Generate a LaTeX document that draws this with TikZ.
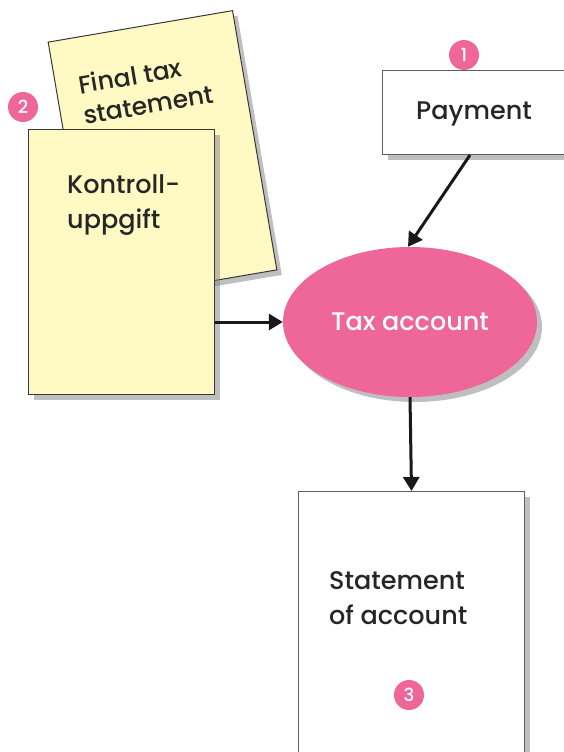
\documentclass[tikz,border=0pt]{standalone}
\usepackage{fontspec}
\setmainfont{Poppins}
\newfontfamily\medfont{Poppins Medium}
\usetikzlibrary{shapes.geometric,shadows,arrows.meta}
\definecolor{pinkc}{RGB}{239,102,153}
\definecolor{paper}{RGB}{255,249,196}
\definecolor{edgec}{RGB}{55,55,55}
\begin{document}
\begin{tikzpicture}[x=1pt,y=-1pt,
 shadowed/.style={drop shadow={shadow xshift=5pt,shadow yshift=-5pt,fill=black!50,opacity=0.5}},
 sheet/.style={draw=edgec,line width=1pt,fill=paper,shadowed,inner sep=0pt},
 whitebox/.style={draw=edgec!80,line width=1pt,fill=white,shadowed,inner sep=0pt},
 badge/.style={circle,fill=pinkc,text=white,inner sep=0pt,minimum size=30pt,font=\medfont\fontsize{18}{18}\selectfont},
 lbl/.style={font=\medfont\fontsize{25.5}{35}\selectfont,text=black!85,align=left,inner sep=0pt},
 conn/.style={line width=3pt,draw=black!90,-{Triangle[length=14pt,width=16pt]}}]
\useasboundingbox (0,0) rectangle (563,752);
% back sheet
\node[sheet,rotate=9.7,minimum width=187pt,minimum height=263pt] (back) at (162.5,156) {};
\node[lbl,rotate=9.7,font=\medfont\fontsize{25}{31}\selectfont] (backtext) at (146,89) {Final tax\\statement};
% front sheet
\node[sheet,minimum width=186pt,minimum height=265pt,anchor=north west] (front) at (28,129) {};
\node[lbl,anchor=west] (fronttext) at (67,205) {Kontroll-\\uppgift};
\node[badge] (b2) at (23,107) {2};
% payment
\node[whitebox,minimum width=200pt,minimum height=84pt,anchor=north west] (pay) at (382,70) {};
\node[lbl] (paytext) at (474,114) {Payment};
\node[badge] (b1) at (464,55) {1};
% tax account
\node[ellipse,fill=pinkc,minimum width=254pt,minimum height=150pt,shadowed,text=white,font=\medfont\fontsize{25.5}{30}\selectfont] (acct) at (410,322) {Tax account};
% statement
\node[whitebox,minimum width=226pt,minimum height=290pt,anchor=north west] (stmt) at (298,491) {};
\node[lbl,anchor=west] (stmttext) at (329,598) {Statement\\of account};
\node[badge] (b3) at (409,695) {3};
% connectors
\draw[conn] ([xshift=88pt]pay.south west) -- ([xshift=-2pt]acct.north);
\draw[conn] (front.east |- acct) -- (acct.west);
\draw[conn] (acct.south) -- (stmt.north);
\end{tikzpicture}
\end{document}
